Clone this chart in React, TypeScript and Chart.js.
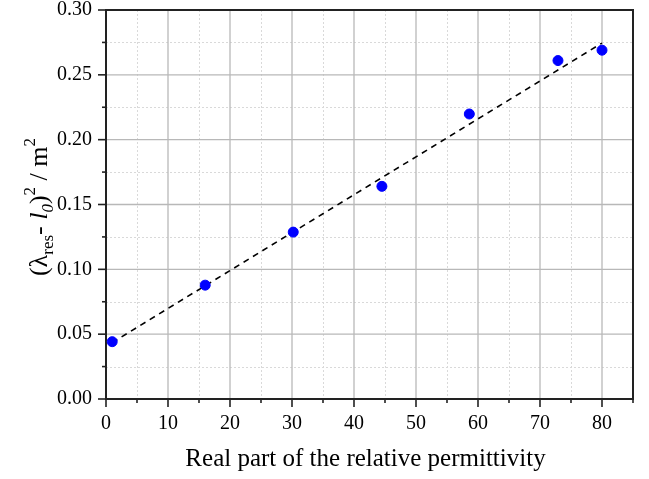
import React, { useEffect, useRef } from "react";
import { Chart, registerables } from "chart.js";

Chart.register(...registerables);

const permittivity = [1, 16, 30.2, 44.5, 58.6, 72.9, 80];
const resonance = [0.0442, 0.0878, 0.1287, 0.164, 0.2198, 0.261, 0.269];
const fitX = [1, 80];
const fitY = [0.0435, 0.2745];
const xMajor = [0, 10, 20, 30, 40, 50, 60, 70, 80];
const xMinor = [5, 15, 25, 35, 45, 55, 65, 75, 85];
const yMajor = [0, 0.05, 0.1, 0.15, 0.2, 0.25, 0.3];
const yMinor = [0.025, 0.075, 0.125, 0.175, 0.225, 0.275];
const xTitle = "Real part of the relative permittivity";

const FONT = "'Liberation Serif', 'Times New Roman', serif";

const gridPlugin = {
  id: "customGrid",
  beforeDatasetsDraw(chart: any) {
    const { ctx, chartArea } = chart;
    const { left, right, top, bottom } = chartArea;
    const xs = chart.scales.x;
    const ys = chart.scales.y;
    ctx.save();
    // minor dotted
    ctx.strokeStyle = "#d9d9d9";
    ctx.lineWidth = 1;
    ctx.setLineDash([2, 2]);
    for (const v of xMinor) {
      const p = Math.round(xs.getPixelForValue(v)) + 0.5;
      if (p >= right - 1) continue;
      ctx.beginPath();
      ctx.moveTo(p, top);
      ctx.lineTo(p, bottom);
      ctx.stroke();
    }
    for (const v of yMinor) {
      const p = Math.round(ys.getPixelForValue(v)) + 0.5;
      ctx.beginPath();
      ctx.moveTo(left, p);
      ctx.lineTo(right, p);
      ctx.stroke();
    }
    ctx.setLineDash([]);
    // major
    ctx.strokeStyle = "#b8b8b8";
    ctx.lineWidth = 1.3;
    for (const v of xMajor) {
      const p = xs.getPixelForValue(v);
      ctx.beginPath();
      ctx.moveTo(p, top);
      ctx.lineTo(p, bottom);
      ctx.stroke();
    }
    for (const v of yMajor) {
      const p = ys.getPixelForValue(v);
      ctx.beginPath();
      ctx.moveTo(left, p);
      ctx.lineTo(right, p);
      ctx.stroke();
    }
    // box
    ctx.strokeStyle = "#222";
    ctx.lineWidth = 2;
    ctx.strokeRect(left, top, right - left, bottom - top);
    // ticks
    ctx.lineWidth = 1.6;
    for (const v of xMajor) {
      const p = xs.getPixelForValue(v);
      ctx.beginPath();
      ctx.moveTo(p, bottom);
      ctx.lineTo(p, bottom + 8);
      ctx.stroke();
    }
    for (const v of xMinor) {
      const p = xs.getPixelForValue(v);
      ctx.beginPath();
      ctx.moveTo(p, bottom);
      ctx.lineTo(p, bottom + 4);
      ctx.stroke();
    }
    for (const v of yMajor) {
      const p = ys.getPixelForValue(v);
      ctx.beginPath();
      ctx.moveTo(left, p);
      ctx.lineTo(left - 8, p);
      ctx.stroke();
    }
    for (const v of yMinor) {
      const p = ys.getPixelForValue(v);
      ctx.beginPath();
      ctx.moveTo(left, p);
      ctx.lineTo(left - 4, p);
      ctx.stroke();
    }
    ctx.restore();
  },
  afterDraw(chart: any) {
    const { ctx, chartArea } = chart;
    ctx.save();
    ctx.fillStyle = "#000";
    // x title
    ctx.font = `25px ${FONT}`;
    ctx.textAlign = "center";
    ctx.textBaseline = "alphabetic";
    ctx.fillText(xTitle, (chartArea.left + chartArea.right) / 2 - 4, 466);
    // y title with sub/superscripts
    const segs: [string, string, number][] = [
      [`26px ${FONT}`, "(\u03bb", 0],
      [`17px ${FONT}`, "res", 6],
      [`26px ${FONT}`, "- ", 0],
      [`italic 26px ${FONT}`, "l", 0],
      [`italic 17px ${FONT}`, "0", 6],
      [`26px ${FONT}`, ")", 0],
      [`17px ${FONT}`, "2", -12],
      [`26px ${FONT}`, " / m", 0],
      [`17px ${FONT}`, "2", -12],
    ];
    let total = 0;
    for (const [f, t] of segs) {
      ctx.font = f;
      total += ctx.measureText(t).width;
    }
    ctx.translate(47, 207);
    ctx.rotate(-Math.PI / 2);
    ctx.textAlign = "left";
    let x = -total / 2;
    for (const [f, t, dy] of segs) {
      ctx.font = f;
      ctx.fillText(t, x, dy);
      x += ctx.measureText(t).width;
    }
    ctx.restore();
  },
};

export default function App() {
  const ref = useRef<HTMLCanvasElement>(null);
  useEffect(() => {
    if (!ref.current) return;
    const chart = new Chart(ref.current, {
      type: "scatter",
      data: {
        datasets: [
          {
            type: "line",
            data: fitX.map((x, i) => ({ x, y: fitY[i] })),
            borderColor: "#000",
            borderWidth: 1.6,
            borderDash: [6, 5],
            pointRadius: 0,
            fill: false,
            order: 2,
          },
          {
            type: "scatter",
            data: permittivity.map((x, i) => ({ x, y: resonance[i] })),
            backgroundColor: "#0000ff",
            borderColor: "#0000ff",
            pointRadius: 5,
            order: 1,
          },
        ] as any,
      },
      options: {
        animation: false,
        responsive: false,
        maintainAspectRatio: false,
        layout: { padding: { top: 10, right: 16, left: 0, bottom: 0 } },
        plugins: { legend: { display: false }, tooltip: { enabled: false } },
        scales: {
          x: {
            type: "linear",
            min: 0,
            max: 85,
            grid: { display: false, drawTicks: false },
            border: { display: false },
            ticks: {
              stepSize: 10,
              includeBounds: false,
              padding: 13,
              color: "#000",
              font: { family: FONT, size: 20 },
              maxRotation: 0,
            },
            afterFit: (s: any) => {
              s.height = 80;
              s.paddingLeft = 0;
              s.paddingRight = 0;
            },
          },
          y: {
            type: "linear",
            min: 0,
            max: 0.3,
            grid: { display: false, drawTicks: false },
            border: { display: false },
            ticks: {
              stepSize: 0.05,
              padding: 14,
              color: "#000",
              font: { family: FONT, size: 20 },
              callback: (v: any) => Number(v).toFixed(2),
            },
            afterFit: (s: any) => {
              s.width = 106;
              s.paddingTop = 0;
              s.paddingBottom = 0;
            },
          },
        },
      } as any,
      plugins: [gridPlugin],
    });
    return () => chart.destroy();
  }, []);
  return (
    <div style={{ position: "fixed", left: 0, top: 0, width: 649, height: 479 }}>
      <canvas ref={ref} width={649} height={479} style={{ width: 649, height: 479 }} />
    </div>
  );
}
